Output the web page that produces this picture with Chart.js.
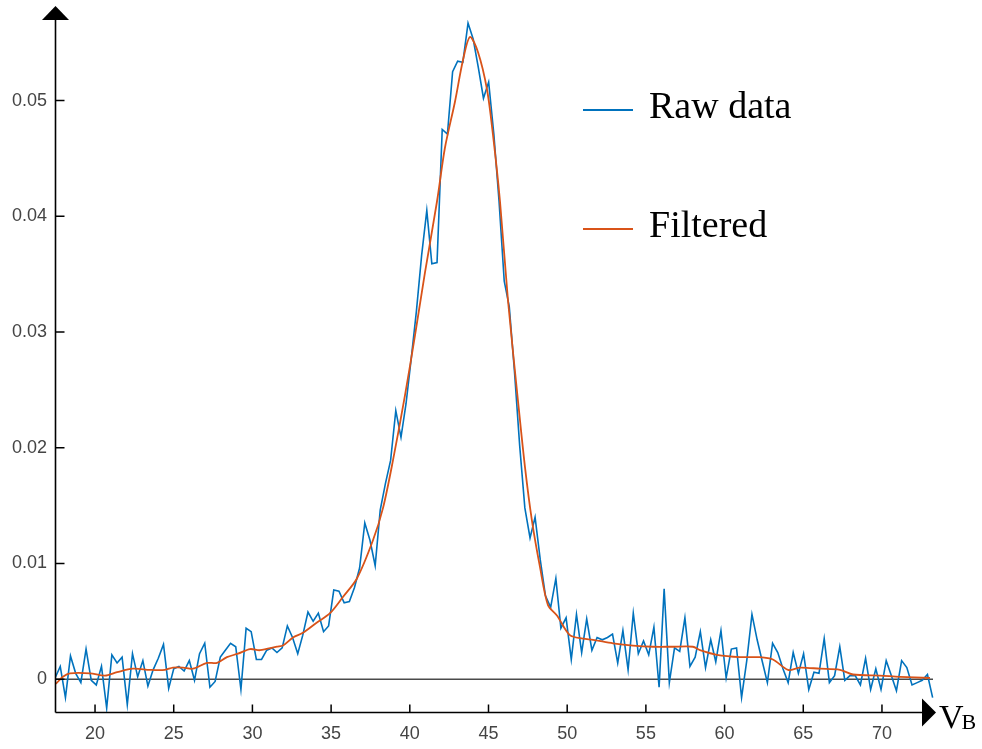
<!DOCTYPE html>
<html>
<head>
<meta charset="utf-8">
<script src="https://cdn.jsdelivr.net/npm/chart.js@4/dist/chart.umd.min.js"></script>
<style>
  html, body { margin: 0; padding: 0; background: #fff; }
  #wrap { width: 982px; height: 749px; }
</style>
</head>
<body>
<div id="wrap"><canvas id="c" width="982" height="749"></canvas></div>
<script>
// V_B sample positions of the raw trace
const vB = [
  17.46, 17.79, 18.12, 18.44, 18.77, 19.10, 19.43, 19.76, 20.08, 20.41,
  20.74, 21.07, 21.40, 21.72, 22.05, 22.38, 22.71, 23.04, 23.36, 23.69,
  24.02, 24.35, 24.68, 25.00, 25.33, 25.66, 25.99, 26.32, 26.64, 26.97,
  27.30, 27.63, 27.96, 28.28, 28.61, 28.94, 29.27, 29.60, 29.92, 30.25,
  30.58, 30.91, 31.24, 31.56, 31.89, 32.22, 32.55, 32.88, 33.20, 33.53,
  33.86, 34.19, 34.52, 34.84, 35.17, 35.50, 35.83, 36.16, 36.48, 36.81,
  37.14, 37.47, 37.80, 38.12, 38.45, 38.78, 39.11, 39.44, 39.76, 40.09,
  40.42, 40.75, 41.08, 41.40, 41.73, 42.06, 42.39, 42.72, 43.04, 43.37,
  43.70, 44.03, 44.36, 44.68, 45.01, 45.34, 45.67, 46.00, 46.32, 46.65,
  46.98, 47.31, 47.64, 47.96, 48.29, 48.62, 48.95, 49.28, 49.60, 49.93,
  50.26, 50.59, 50.92, 51.24, 51.57, 51.90, 52.23, 52.56, 52.88, 53.21,
  53.54, 53.87, 54.20, 54.52, 54.85, 55.18, 55.51, 55.84, 56.16, 56.49,
  56.82, 57.15, 57.48, 57.80, 58.13, 58.46, 58.79, 59.12, 59.44, 59.77,
  60.10, 60.43, 60.76, 61.08, 61.41, 61.74, 62.07, 62.40, 62.72, 63.05,
  63.38, 63.71, 64.04, 64.36, 64.69, 65.02, 65.35, 65.68, 66.00, 66.33,
  66.66, 66.99, 67.32, 67.64, 67.97, 68.30, 68.63, 68.96, 69.28, 69.61,
  69.94, 70.27, 70.60, 70.92, 71.25, 71.58, 71.91, 72.24, 72.56, 72.89,
  73.22
];

const rawData = [
  0.0001, 0.0011, -0.0016, 0.0020, 0.0005, -0.0003, 0.0026, -0.0001, -0.0005, 0.0011,
  -0.0025, 0.0021, 0.0014, 0.0019, -0.0022, 0.0022, 0.0002, 0.0016, -0.0006, 0.0008,
  0.0018, 0.0030, -0.0008, 0.0009, 0.0011, 0.0007, 0.0016, -0.0001, 0.0022, 0.0031,
  -0.0007, -0.0002, 0.0019, 0.0025, 0.0031, 0.0028, -0.0009, 0.0044, 0.0041, 0.0017,
  0.0017, 0.0025, 0.0027, 0.0023, 0.0027, 0.0046, 0.0036, 0.0022, 0.0038, 0.0058,
  0.0050, 0.0057, 0.0041, 0.0046, 0.0077, 0.0076, 0.0066, 0.0067, 0.0079, 0.0096,
  0.0135, 0.0120, 0.0098, 0.0146, 0.0169, 0.0189, 0.0232, 0.0209, 0.0238, 0.0277,
  0.0318, 0.0366, 0.0405, 0.0359, 0.0360, 0.0475, 0.0471, 0.0525, 0.0534, 0.0533,
  0.0567, 0.0553, 0.0528, 0.0502, 0.0516, 0.0471, 0.0413, 0.0344, 0.0322, 0.0266,
  0.0202, 0.0148, 0.0122, 0.0140, 0.0103, 0.0072, 0.0062, 0.0087, 0.0044, 0.0053,
  0.0017, 0.0056, 0.0023, 0.0052, 0.0025, 0.0036, 0.0034, 0.0036, 0.0039, 0.0014,
  0.0042, 0.0008, 0.0057, 0.0022, 0.0033, 0.0021, 0.0045, -0.0007, 0.0078, -0.0003,
  0.0027, 0.0024, 0.0053, 0.0011, 0.0019, 0.0041, 0.0010, 0.0034, 0.0015, 0.0042,
  0.0001, 0.0026, 0.0027, -0.0016, 0.0016, 0.0056, 0.0034, 0.0015, -0.0003, 0.0031,
  0.0023, 0.0009, -0.0003, 0.0023, 0.0005, 0.0022, -0.0009, 0.0006, 0.0005, 0.0035,
  -0.0003, 0.0003, 0.0028, -0.0001, 0.0003, 0.0003, -0.0005, 0.0018, -0.0009, 0.0009,
  -0.0009, 0.0016, 0.0003, -0.0010, 0.0016, 0.0010, -0.0005, -0.0003, -0.0001, 0.0004,
  -0.0016
];

// filtered trace, read at its own points
const filtX = [
  17.52, 17.96, 18.41, 19.68, 20.63, 21.40, 22.41, 23.49, 24.44, 24.95,
  25.59, 26.22, 27.11, 27.75, 28.38, 29.08, 29.85, 30.48, 31.56, 31.94,
  32.58, 33.21, 34.10, 34.93, 35.75, 36.64, 37.66, 38.30, 38.93, 39.69,
  40.33, 40.96, 41.73, 42.23, 42.87, 43.38, 43.82, 44.33, 44.90, 45.28,
  45.73, 46.24, 46.87, 47.32, 47.76, 48.27, 48.78, 49.35, 50.17, 51.00,
  51.64, 52.91, 54.18, 55.45, 56.72, 57.99, 58.43, 59.51, 60.98, 62.25,
  63.07, 64.03, 64.79, 66.06, 67.33, 68.16, 69.87, 71.14, 73.05
];
const filtData = [
  -0.0004, 0.0002, 0.0005, 0.0005, 0.0003, 0.0006, 0.0009, 0.0008, 0.0008, 0.0010,
  0.0010, 0.0009, 0.0014, 0.0014, 0.0019, 0.0022, 0.0026, 0.0025, 0.0028, 0.0029,
  0.0036, 0.0040, 0.0049, 0.0057, 0.0071, 0.0087, 0.0120, 0.0148, 0.0189, 0.0245,
  0.0297, 0.0351, 0.0413, 0.0459, 0.0499, 0.0535, 0.0555, 0.0542, 0.0510, 0.0471,
  0.0413, 0.0327, 0.0241, 0.0183, 0.0137, 0.0097, 0.0064, 0.0055, 0.0038, 0.0035,
  0.0034, 0.0031, 0.0029, 0.0028, 0.0028, 0.0028, 0.0025, 0.0021, 0.0019, 0.0019,
  0.0017, 0.0008, 0.0010, 0.0009, 0.0008, 0.0004, 0.0003, 0.0002, 0.0001
];

const seriesNames = ["Raw data", "Filtered"];
const xTicks = [20, 25, 30, 35, 40, 45, 50, 55, 60, 65, 70];
const yTicks = [0, 0.01, 0.02, 0.03, 0.04, 0.05];
const yTickLabels = ["0", "0.01", "0.02", "0.03", "0.04", "0.05"];
const xAxisName = "V";
const xAxisSub = "B";

const blue = "#0072BD";
const orange = "#D95319";
const tickFont = { family: "'Liberation Sans', Arial, sans-serif", size: 18 };

// arrows, ticks, zero line, legend, axis name
const decor = {
  id: "decor",
  beforeDatasetsDraw(chart) {
    const { ctx, chartArea: a, scales } = chart;
    const y0 = scales.y.getPixelForValue(0);
    ctx.save();
    ctx.strokeStyle = "#4a4a4a";
    ctx.lineWidth = 1.5;
    ctx.beginPath();
    ctx.moveTo(a.left, y0);
    ctx.lineTo(a.right - 2, y0);
    ctx.stroke();
    ctx.restore();
  },
  afterDraw(chart) {
    const { ctx, chartArea: a, scales } = chart;
    const ax = a.left - 0.5;
    const ay = a.bottom + 0.5;
    ctx.save();
    ctx.strokeStyle = "#000";
    ctx.fillStyle = "#000";
    ctx.lineWidth = 1.6;

    ctx.beginPath();
    ctx.moveTo(ax, ay);
    ctx.lineTo(ax, 20);
    ctx.moveTo(ax, ay);
    ctx.lineTo(a.right - 13, ay);
    ctx.stroke();

    ctx.beginPath();
    ctx.moveTo(ax - 13.5, 20);
    ctx.lineTo(ax + 13.5, 20);
    ctx.lineTo(ax, 6);
    ctx.closePath();
    ctx.fill();

    ctx.beginPath();
    ctx.moveTo(a.right - 13, ay - 14);
    ctx.lineTo(a.right - 13, ay + 14);
    ctx.lineTo(a.right + 1, ay);
    ctx.closePath();
    ctx.fill();

    ctx.lineWidth = 1.5;
    ctx.beginPath();
    yTicks.forEach((v) => {
      const py = scales.y.getPixelForValue(v);
      ctx.moveTo(ax, py);
      ctx.lineTo(ax + 9, py);
    });
    xTicks.forEach((v) => {
      const px = scales.x.getPixelForValue(v);
      ctx.moveTo(px, ay);
      ctx.lineTo(px, ay - 8);
    });
    ctx.stroke();

    // legend
    const rows = [108, 227];
    ctx.font = "38px 'Liberation Serif', 'Times New Roman', serif";
    ctx.textBaseline = "middle";
    chart.data.datasets.forEach((ds, i) => {
      const y = rows[i];
      ctx.strokeStyle = ds.borderColor;
      ctx.lineWidth = 2;
      ctx.beginPath();
      ctx.moveTo(583, y + 2);
      ctx.lineTo(633, y + 2);
      ctx.stroke();
      ctx.fillStyle = "#000";
      ctx.fillText(ds.label, 649, y);
    });

    // axis name
    ctx.textBaseline = "alphabetic";
    ctx.font = "34px 'Liberation Serif', 'Times New Roman', serif";
    ctx.fillText(xAxisName, 939, 728);
    const w = ctx.measureText(xAxisName).width;
    ctx.font = "22px 'Liberation Serif', 'Times New Roman', serif";
    ctx.fillText(xAxisSub, 939 + w - 2, 729);
    ctx.restore();
  }
};

new Chart(document.getElementById("c"), {
  type: "line",
  data: {
    datasets: [
      {
        label: seriesNames[0],
        data: vB.map((x, i) => ({ x, y: rawData[i] })),
        borderColor: blue,
        borderWidth: 1.6,
        pointRadius: 0,
        tension: 0,
        order: 1
      },
      {
        label: seriesNames[1],
        data: filtX.map((x, i) => ({ x, y: filtData[i] })),
        borderColor: orange,
        borderWidth: 1.8,
        pointRadius: 0,
        tension: 0.3,
        order: 0
      }
    ]
  },
  options: {
    responsive: false,
    animation: false,
    layout: { padding: { top: 8, right: 47, left: 0, bottom: 0 } },
    plugins: { legend: { display: false }, tooltip: { enabled: false } },
    scales: {
      x: {
        type: "linear",
        min: 17.52,
        max: 73.37,
        grid: { display: false, drawTicks: false },
        border: { display: false },
        afterBuildTicks: (s) => { s.ticks = xTicks.map((v) => ({ value: v })); },
        afterFit: (s) => { s.height = 37; },
        ticks: { autoSkip: false, maxRotation: 0, padding: 11, color: "#444", font: tickFont, callback: (v) => String(v) }
      },
      y: {
        type: "linear",
        min: -0.00284,
        max: 0.05698,
        grid: { display: false, drawTicks: false },
        border: { display: false },
        afterBuildTicks: (s) => { s.ticks = yTicks.map((v) => ({ value: v })); },
        afterFit: (s) => { s.width = 56; },
        ticks: { autoSkip: false, padding: 9, color: "#444", font: tickFont, callback: (v, i) => yTickLabels[i] }
      }
    }
  },
  plugins: [decor]
});
</script>
</body>
</html>
